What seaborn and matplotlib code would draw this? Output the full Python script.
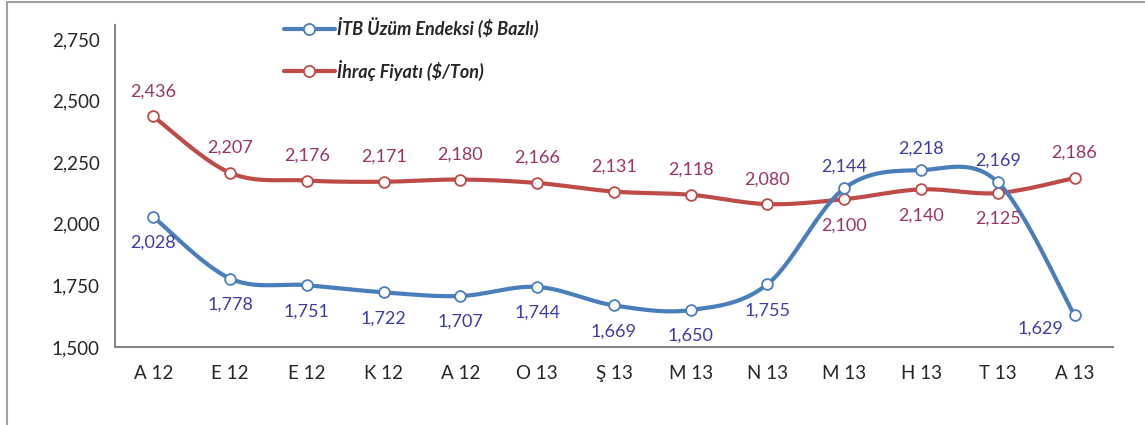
import numpy as np
import pandas as pd
import seaborn as sns
import matplotlib.pyplot as plt
from matplotlib.lines import Line2D

sns.set_style('white')
plt.rcParams['font.family'] = ['Lato', 'DejaVu Sans']

months = ['A 12', 'E 12', 'E 12', 'K 12', 'A 12', 'O 13', 'Ş 13', 'M 13', 'N 13', 'M 13', 'H 13', 'T 13', 'A 13']
itb_index = [2028, 1778, 1751, 1722, 1707, 1744, 1669, 1650, 1755, 2144, 2218, 2169, 1629]
export_price = [2436, 2207, 2176, 2171, 2180, 2166, 2131, 2118, 2080, 2100, 2140, 2125, 2186]

blue = '#4A7EBB'
red = '#BE4B48'
blue_lbl = '#3C3CA8'
red_lbl = '#9B3366'


def smooth(y, n=30):
    # Excel-style smoothed line (cubic bezier / catmull-rom through the points)
    y = np.asarray(y, dtype=float)
    x = np.arange(len(y), dtype=float)
    px = np.concatenate([[x[0]], x, [x[-1]]])
    py = np.concatenate([[y[0]], y, [y[-1]]])
    xs, ys = [], []
    t = np.linspace(0, 1, n)
    for i in range(1, len(px) - 2):
        p0 = np.array([px[i], py[i]])
        p3 = np.array([px[i + 1], py[i + 1]])
        p1 = p0 + (np.array([px[i + 1], py[i + 1]]) - np.array([px[i - 1], py[i - 1]])) / 6
        p2 = p3 - (np.array([px[i + 2], py[i + 2]]) - np.array([px[i], py[i]])) / 6
        b = ((1 - t) ** 3)[:, None] * p0 + (3 * (1 - t) ** 2 * t)[:, None] * p1 \
            + (3 * (1 - t) * t ** 2)[:, None] * p2 + (t ** 3)[:, None] * p3
        xs.extend(b[:, 0])
        ys.extend(b[:, 1])
    return np.array(xs), np.array(ys)


df = pd.DataFrame({'idx': range(len(months)), 'itb': itb_index, 'price': export_price})

fig = plt.figure(figsize=(11.45, 4.25), dpi=100)
ax = fig.add_axes([0.1004, 0.1835, 0.8716, 0.7575])

for col, c in [('price', red), ('itb', blue)]:
    sx, sy = smooth(df[col])
    ax.plot(sx, sy, color=c, lw=3, solid_capstyle='round', zorder=2)
    sns.scatterplot(data=df, x='idx', y=col, ax=ax, s=60, color='white',
                    edgecolor=c, linewidth=1.3, zorder=3, legend=False)

# data labels
blue_above = {9, 10, 11}
for i, v in enumerate(itb_index):
    dx, dy = 0, (22 if i in blue_above else -26)
    if i == len(itb_index) - 1:
        dx, dy = -34, -13
    ax.annotate(f'{v:,}', (i, v), xytext=(dx, dy), textcoords='offset pixels',
                ha='center', va='center', color=blue_lbl, fontsize=13)

red_below = {9, 10, 11}
for i, v in enumerate(export_price):
    dy = -26 if i in red_below else 25
    ax.annotate(f'{v:,}', (i, v), xytext=(0, dy), textcoords='offset pixels',
                ha='center', va='center', color=red_lbl, fontsize=13)

ax.set_xlim(-0.5, len(months) - 0.5)
ax.set_ylim(1500, 2807)
ax.set_yticks([1500, 1750, 2000, 2250, 2500, 2750])
ax.set_yticklabels([f'{v:,}' for v in [1500, 1750, 2000, 2250, 2500, 2750]], fontsize=13.5)
ax.set_xticks(range(len(months)))
ax.set_xticklabels(months, fontsize=13.5)
ax.tick_params(axis='x', length=0, pad=13)
ax.set_xticks(np.arange(-0.5, len(months), 1), minor=True)
ax.tick_params(axis='x', which='minor', direction='out', length=6, color='#868686', width=1.3)
ax.tick_params(axis='y', direction='out', length=5, color='#868686', width=1.3, pad=6)
ax.set_xlabel('')
ax.set_ylabel('')
for s in ['top', 'right']:
    ax.spines[s].set_visible(False)
for s in ['left', 'bottom']:
    ax.spines[s].set_color('#868686')
    ax.spines[s].set_linewidth(1.5)

handles = [
    Line2D([], [], color=blue, lw=3, marker='o', markersize=8, markerfacecolor='white',
           markeredgecolor=blue, markeredgewidth=1.3),
    Line2D([], [], color=red, lw=3, marker='o', markersize=8, markerfacecolor='white',
           markeredgecolor=red, markeredgewidth=1.3),
]
fig.legend(handles, ['İTB Üzüm Endeksi ($ Bazlı)', 'İhraç Fiyatı ($/Ton)'],
           loc='upper left', bbox_to_anchor=(0.234, 0.998), frameon=False,
           handlelength=2.8, handletextpad=0.15, labelspacing=1.2,
           prop={'weight': 'bold', 'style': 'italic', 'size': 13})

# chart frame
fig.add_artist(Line2D([7 / 1145, 1], [1 - 2 / 425, 1 - 2 / 425], transform=fig.transFigure,
                      color='#A0A0A0', lw=1.5))
fig.add_artist(Line2D([7 / 1145, 7 / 1145], [0, 1 - 2 / 425], transform=fig.transFigure,
                      color='#A0A0A0', lw=1.5))

fig.savefig('out.png', dpi=100)
